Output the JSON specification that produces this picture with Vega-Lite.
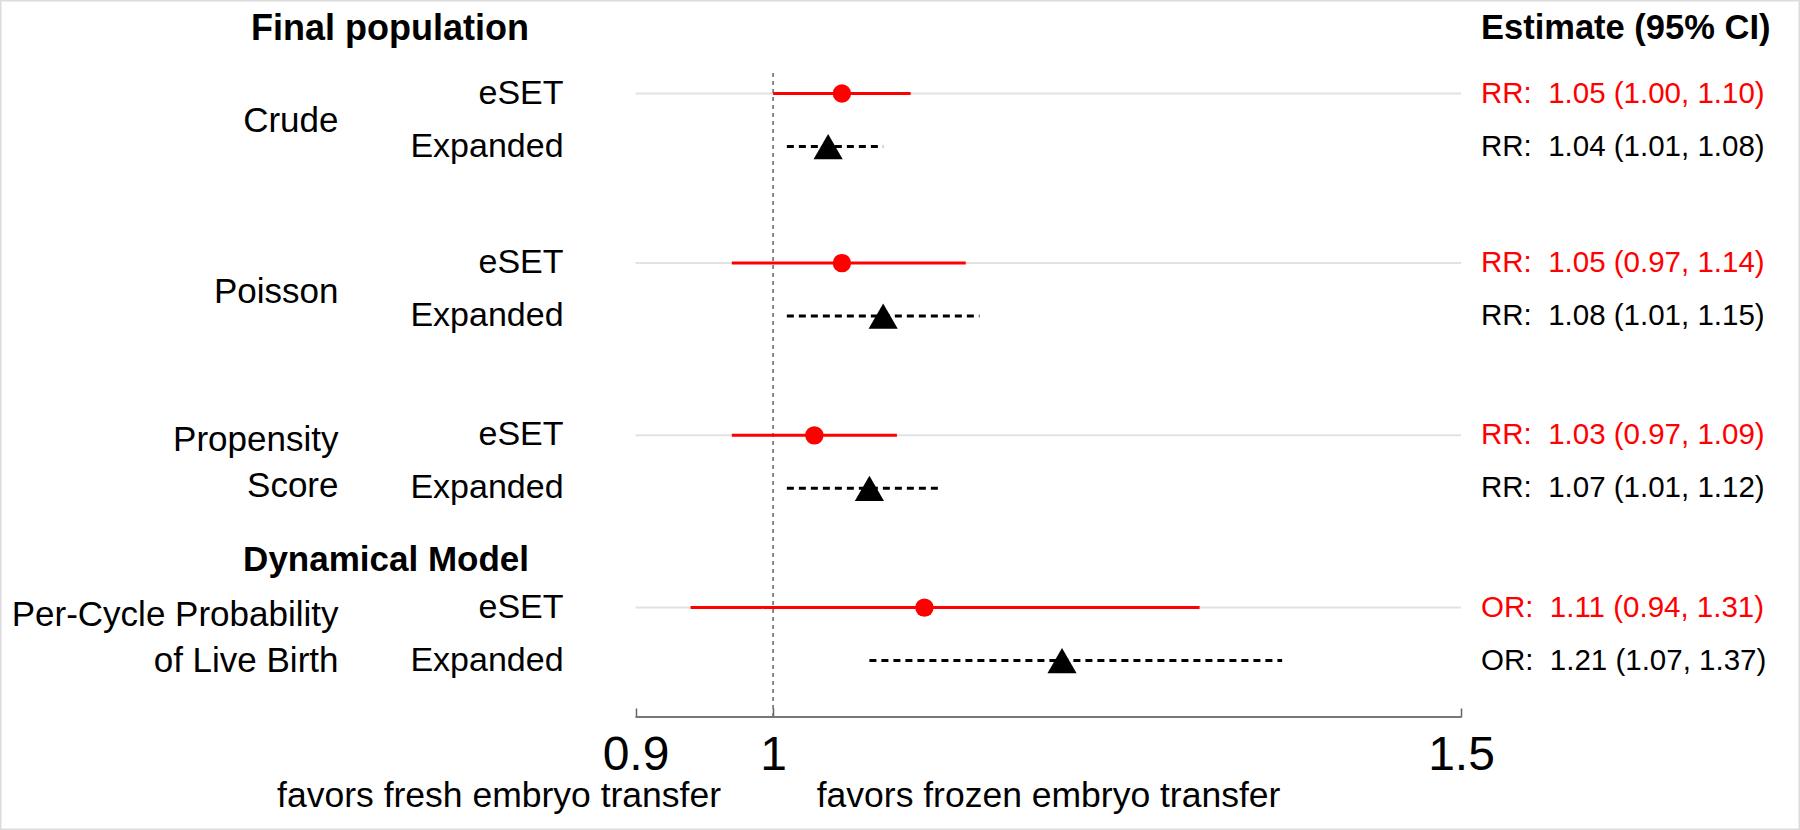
{
  "$schema": "https://vega.github.io/schema/vega-lite/v6.json",
  "autosize": {"type": "fit", "contains": "padding"},
  "width": 1800,
  "height": 830,
  "padding": 0,
  "background": "white",
  "config": {
    "view": {"stroke": "#dcdcdc", "strokeWidth": 3},
    "font": "Liberation Sans",
    "text": {"font": "Liberation Sans"}
  },
  "datasets": {
    "est": [
      {"model": "Crude", "group": "eSET", "row": 1, "est": 1.05, "lo": 1.00, "hi": 1.10, "label": "RR:\u00a0 1.05 (1.00, 1.10)"},
      {"model": "Crude", "group": "Expanded", "row": 2, "est": 1.04, "lo": 1.01, "hi": 1.08, "label": "RR:\u00a0 1.04 (1.01, 1.08)"},
      {"model": "Poisson", "group": "eSET", "row": 4.2, "est": 1.05, "lo": 0.97, "hi": 1.14, "label": "RR:\u00a0 1.05 (0.97, 1.14)"},
      {"model": "Poisson", "group": "Expanded", "row": 5.2, "est": 1.08, "lo": 1.01, "hi": 1.15, "label": "RR:\u00a0 1.08 (1.01, 1.15)"},
      {"model": "Propensity Score", "group": "eSET", "row": 7.45, "est": 1.03, "lo": 0.97, "hi": 1.09, "label": "RR:\u00a0 1.03 (0.97, 1.09)"},
      {"model": "Propensity Score", "group": "Expanded", "row": 8.45, "est": 1.07, "lo": 1.01, "hi": 1.12, "label": "RR:\u00a0 1.07 (1.01, 1.12)"},
      {"model": "Per-Cycle Probability of Live Birth", "group": "eSET", "row": 10.7, "est": 1.11, "lo": 0.94, "hi": 1.31, "label": "OR:\u00a0 1.11 (0.94, 1.31)"},
      {"model": "Per-Cycle Probability of Live Birth", "group": "Expanded", "row": 11.7, "est": 1.21, "lo": 1.07, "hi": 1.37, "label": "OR:\u00a0 1.21 (1.07, 1.37)"}
    ],
    "groups": [
      {"text": "Crude", "row": 1.52},
      {"text": "Poisson", "row": 4.75},
      {"text": "Propensity\nScore", "row": 7.54},
      {"text": "Per-Cycle Probability\nof Live Birth", "row": 10.84}
    ]
  },
  "layer": [
    {
      "data": {"name": "est"},
      "transform": [{"filter": "datum.group === 'eSET'"}],
      "mark": {"type": "rule", "color": "#e2e2e2", "strokeWidth": 2},
      "encoding": {
        "x": {"datum": 0.9, "type": "quantitative", "scale": {"domain": [0.43807, 1.7464], "nice": false, "zero": false}, "axis": {"values": [0.9, 1, 1.5], "orient": "bottom", "offset": -113, "domain": false, "grid": false, "ticks": true, "tickSize": -9, "tickColor": "#666666", "tickWidth": 1.5, "labelFontSize": 48, "labelFont": "Liberation Sans", "labelColor": "#000000", "labelBaseline": "middle", "labelPadding": 47, "title": null, "labelFlush": false, "labelOverlap": false, "format": "~g"}},
        "x2": {"datum": 1.5},
        "y": {"field": "row", "type": "quantitative", "scale": {"domain": [-0.7642, 14.896], "reverse": true, "nice": false, "zero": false}, "axis": null}
      }
    },
    {
      "data": {"values": [{}]},
      "mark": {"type": "rule", "color": "#666666", "strokeWidth": 1.5, "strokeDash": [4, 4]},
      "encoding": {
        "x": {"datum": 1, "type": "quantitative"},
        "y": {"datum": 0.613, "type": "quantitative"},
        "y2": {"datum": 12.764}
      }
    },
    {
      "data": {"values": [{}]},
      "mark": {"type": "rule", "color": "#777777", "strokeWidth": 2},
      "encoding": {
        "x": {"datum": 0.9, "type": "quantitative"},
        "x2": {"datum": 1.5},
        "y": {"datum": 12.764, "type": "quantitative"}
      }
    },
    {
      "data": {"name": "est"},
      "mark": {"type": "rule", "strokeWidth": 3},
      "encoding": {
        "x": {"field": "lo", "type": "quantitative", "title": null},
        "x2": {"field": "hi"},
        "y": {"field": "row", "type": "quantitative"},
        "color": {"field": "group", "type": "nominal", "scale": {"domain": ["eSET", "Expanded"], "range": ["#ff0000", "#000000"]}, "legend": null},
        "strokeDash": {"field": "group", "type": "nominal", "scale": {"domain": ["eSET", "Expanded"], "range": [[1, 0], [7, 5]]}, "legend": null}
      }
    },
    {
      "data": {"name": "est"},
      "mark": {"type": "point", "filled": true, "opacity": 1},
      "encoding": {
        "x": {"field": "est", "type": "quantitative", "title": null},
        "y": {"field": "row", "type": "quantitative"},
        "color": {"field": "group", "type": "nominal", "scale": {"domain": ["eSET", "Expanded"], "range": ["#ff0000", "#000000"]}, "legend": null},
        "shape": {"field": "group", "type": "nominal", "scale": {"domain": ["eSET", "Expanded"], "range": ["circle", "triangle-up"]}, "legend": null},
        "size": {"field": "group", "type": "nominal", "scale": {"domain": ["eSET", "Expanded"], "range": [340, 850]}, "legend": null}
      }
    },
    {
      "data": {"name": "est"},
      "mark": {"type": "text", "align": "left", "baseline": "middle", "fontSize": 29.5},
      "encoding": {
        "x": {"datum": 1.5145, "type": "quantitative"},
        "y": {"field": "row", "type": "quantitative"},
        "text": {"field": "label"},
        "color": {"field": "group", "type": "nominal", "scale": {"domain": ["eSET", "Expanded"], "range": ["#ff0000", "#000000"]}, "legend": null}
      }
    },
    {
      "data": {"name": "est"},
      "mark": {"type": "text", "align": "right", "baseline": "middle", "fontSize": 34, "color": "#000000"},
      "encoding": {
        "x": {"datum": 0.8477, "type": "quantitative"},
        "y": {"field": "row", "type": "quantitative"},
        "text": {"field": "group"}
      }
    },
    {
      "data": {"name": "groups"},
      "mark": {"type": "text", "align": "right", "baseline": "middle", "fontSize": 35, "lineBreak": "\n", "lineHeight": 46, "color": "#000000"},
      "encoding": {
        "x": {"datum": 0.6841, "type": "quantitative"},
        "y": {"field": "row", "type": "quantitative"},
        "text": {"field": "text"}
      }
    },
    {
      "data": {"values": [{}]},
      "mark": {"type": "text", "align": "right", "baseline": "middle", "fontSize": 36, "fontWeight": "bold", "text": "Final population", "color": "#000000"},
      "encoding": {
        "x": {"datum": 0.8226, "type": "quantitative"},
        "y": {"datum": -0.22, "type": "quantitative"}
      }
    },
    {
      "data": {"values": [{}]},
      "mark": {"type": "text", "align": "right", "baseline": "middle", "fontSize": 35, "fontWeight": "bold", "text": "Dynamical Model", "color": "#000000"},
      "encoding": {
        "x": {"datum": 0.8226, "type": "quantitative"},
        "y": {"datum": 9.8, "type": "quantitative"}
      }
    },
    {
      "data": {"values": [{}]},
      "mark": {"type": "text", "align": "left", "baseline": "middle", "fontSize": 34.5, "fontWeight": "bold", "text": "Estimate (95% CI)", "color": "#000000"},
      "encoding": {
        "x": {"datum": 1.5145, "type": "quantitative"},
        "y": {"datum": -0.22, "type": "quantitative"}
      }
    },
    {
      "data": {"values": [{}]},
      "mark": {"type": "text", "align": "center", "baseline": "middle", "fontSize": 35.5, "text": "favors fresh embryo transfer", "color": "#000000"},
      "encoding": {
        "x": {"datum": 0.8008, "type": "quantitative"},
        "y": {"datum": 14.25, "type": "quantitative"}
      }
    },
    {
      "data": {"values": [{}]},
      "mark": {"type": "text", "align": "center", "baseline": "middle", "fontSize": 35.5, "text": "favors frozen embryo transfer", "color": "#000000"},
      "encoding": {
        "x": {"datum": 1.2002, "type": "quantitative"},
        "y": {"datum": 14.25, "type": "quantitative"}
      }
    }
  ]
}
